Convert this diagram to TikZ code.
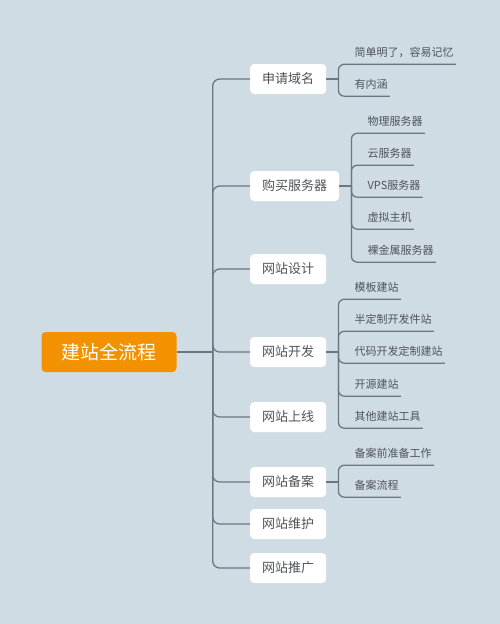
\documentclass[tikz,border=0pt]{standalone}
\usepackage{fontspec}
\setmainfont{Noto Sans CJK SC}
\usetikzlibrary{calc}
\definecolor{bgcol}{HTML}{CFDCE4}
\definecolor{linecol}{HTML}{6B7884}
\definecolor{rootcol}{HTML}{F39200}
\definecolor{txtcol}{HTML}{4F5358}
\begin{document}
\begin{tikzpicture}[x=1pt,y=-1pt,
    rootbox/.style={fill=rootcol,rounded corners=4pt,text=white,inner xsep=20pt,minimum height=40pt,font=\fontsize{19}{21}\selectfont},
    topicbox/.style={fill=white,rounded corners=4pt,text=txtcol,inner xsep=12pt,minimum height=30pt,anchor=west,font=\fontsize{13}{15}\selectfont},
    subtopic/.style={text=txtcol,inner xsep=2pt,inner ysep=0pt,minimum height=24pt,anchor=west,font=\fontsize{11}{13}\selectfont},
    branch/.style={draw=linecol,line width=1.3pt,rounded corners=7pt},
    twig/.style={draw=linecol,line width=1.3pt,rounded corners=6pt}]
    \fill[bgcol] (0,0) rectangle (500,624);
    \useasboundingbox (0,0) rectangle (500,624);
    % main topic and trunk
    \node[rootbox] (root) at (109,352) {建站全流程};
    \coordinate (j) at ($(root.east)+(36,0)$);
    \draw[branch] (root.east) -- (j);
    \foreach \name/\txt/\y in {t1/申请域名/79, t2/购买服务器/186, t3/网站设计/269, t4/网站开发/352,
        t5/网站上线/417, t6/网站备案/482, t7/网站维护/524, t8/网站推广/568} {
        \node[topicbox] (\name) at (250,\y) {\txt};
        \draw[branch] (j) |- (\name.west);
    }
    % subtopics
    \coordinate (t1j) at ($(t1.east)+(12,0)$);
    \draw[twig] (t1.east) -- (t1j);
    \foreach \i/\txt/\y in {1/简单明了，容易记忆/52, 2/有内涵/84} {
        \node[subtopic,xshift=14pt] (t1-\i) at (t1j |- 0,\y) {\txt};
        \draw[twig] (t1j) |- (t1-\i.south east);
    }
    \coordinate (t2j) at ($(t2.east)+(12,0)$);
    \draw[twig] (t2.east) -- (t2j);
    \foreach \i/\txt/\y in {1/物理服务器/121, 2/云服务器/153, 3/VPS服务器/185, 4/虚拟主机/217, 5/裸金属服务器/250} {
        \node[subtopic,xshift=14pt] (t2-\i) at (t2j |- 0,\y) {\txt};
        \draw[twig] (t2j) |- (t2-\i.south east);
    }
    \coordinate (t4j) at ($(t4.east)+(12,0)$);
    \draw[twig] (t4.east) -- (t4j);
    \foreach \i/\txt/\y in {1/模板建站/287, 2/半定制开发件站/319, 3/代码开发定制建站/351, 4/开源建站/384, 5/其他建站工具/416} {
        \node[subtopic,xshift=14pt] (t4-\i) at (t4j |- 0,\y) {\txt};
        \draw[twig] (t4j) |- (t4-\i.south east);
    }
    \coordinate (t6j) at ($(t6.east)+(12,0)$);
    \draw[twig] (t6.east) -- (t6j);
    \foreach \i/\txt/\y in {1/备案前准备工作/453, 2/备案流程/485} {
        \node[subtopic,xshift=14pt] (t6-\i) at (t6j |- 0,\y) {\txt};
        \draw[twig] (t6j) |- (t6-\i.south east);
    }
\end{tikzpicture}
\end{document}
